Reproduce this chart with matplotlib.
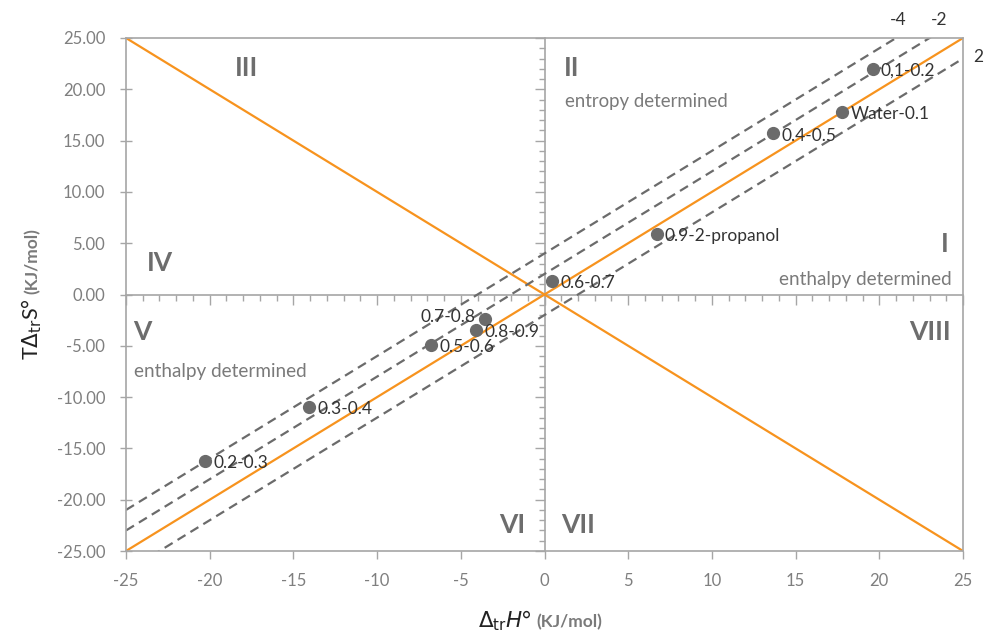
import numpy as np
import matplotlib
matplotlib.use("Agg")
import matplotlib.pyplot as plt
from matplotlib.ticker import MultipleLocator, FormatStrFormatter

plt.rcParams['font.family'] = ['Lato', 'DejaVu Sans']
plt.rcParams['mathtext.fontset'] = 'dejavusans'
plt.rcParams['axes.unicode_minus'] = False

# ---- data ----
labels = ['0,1-0.2', 'Water-0.1', '0.4-0.5', '0.9-2-propanol', '0.6-0.7',
          '0.7-0.8', '0.8-0.9', '0.5-0.6', '0.3-0.4', '0.2-0.3']
dH = [19.6, 17.8, 13.65, 6.7, 0.45, -3.55, -4.1, -6.8, -14.05, -20.3]
TdS = [22.0, 17.8, 15.7, 5.9, 1.3, -2.35, -3.45, -4.9, -10.95, -16.2]
label_left = ['0.7-0.8']

dash_offsets = [4, 2, -2]
dash_labels = ['-4', '-2', '2']

roman = ['I', 'II', 'III', 'IV', 'V', 'VI', 'VII', 'VIII']
roman_x = [23.9, 1.6, -17.8, -23.0, -24.0, -1.9, 2.0, 23.0]
roman_y = [4.9, 22.1, 22.1, 3.1, -3.65, -22.5, -22.5, -3.65]

region_text = ['entropy determined', 'enthalpy determined', 'enthalpy determined']
region_x = [1.2, 24.3, -24.5]
region_y = [18.8, 1.5, -7.5]
region_ha = ['left', 'right', 'left']
region_size = [13.4, 13.6, 13.6]

xlim = (-25, 25)
ylim = (-25, 25)

ORANGE = '#F7931E'
DGRAY = '#6b6b6b'
SPINE = '#a6a6a6'
TICKC = '#7f7f7f'
TEXTC = '#333333'

fig = plt.figure(figsize=(9.84, 6.37), dpi=100)
rect = [126/984, 1-551/637, (963-126)/984, (551-38)/637]

# axis through origin (behind)
ax2 = fig.add_axes(rect)
ax2.set_xlim(*xlim); ax2.set_ylim(*ylim)
ax2.patch.set_visible(False)
for s in ['top', 'right']:
    ax2.spines[s].set_visible(False)
ax2.spines['bottom'].set_position(('data', 0))
ax2.spines['left'].set_position(('data', 0))
for s in ['bottom', 'left']:
    ax2.spines[s].set_color(SPINE)
    ax2.spines[s].set_linewidth(1.2)
ax2.xaxis.set_major_locator(MultipleLocator(5))
ax2.xaxis.set_minor_locator(MultipleLocator(1))
ax2.yaxis.set_major_locator(MultipleLocator(5))
ax2.yaxis.set_minor_locator(MultipleLocator(1))
ax2.tick_params(which='both', direction='out', color=SPINE, width=1.0,
                labelbottom=False, labelleft=False)
ax2.tick_params(which='major', length=7)
ax2.tick_params(which='minor', length=4)
ax2.set_zorder(0)

ax = fig.add_axes(rect)
ax.set_zorder(1)
ax.patch.set_alpha(0)
ax.set_xlim(*xlim); ax.set_ylim(*ylim)

xs = np.array(xlim, dtype=float)
ax.plot(xs, xs, color=ORANGE, lw=1.6, zorder=2)
ax.plot(xs, -xs, color=ORANGE, lw=1.6, zorder=2)
for c in dash_offsets:
    ax.plot(xs, xs + c, color=DGRAY, lw=1.6, dashes=(4.2, 2.6), zorder=2)

ax.plot(dH, TdS, 'o', color=DGRAY, markersize=8.5, zorder=3)
for lab, x, y in zip(labels, dH, TdS):
    if lab in label_left:
        ax.annotate(lab, (x, y), xytext=(-7, 1), textcoords='offset points',
                    ha='right', va='center', fontsize=12.5, color=TEXTC)
    else:
        ax.annotate(lab, (x, y), xytext=(6, -1.5), textcoords='offset points',
                    ha='left', va='center', fontsize=12.5, color=TEXTC)

# dashed line labels
ax.text(25 - dash_offsets[0] + 0.1, 26.8, dash_labels[0], ha='center', va='center',
        fontsize=12.5, color=TEXTC, clip_on=False)
ax.text(25 - dash_offsets[1] + 0.6, 26.8, dash_labels[1], ha='center', va='center',
        fontsize=12.5, color=TEXTC, clip_on=False)
ax.text(25.9, 25 + dash_offsets[2] + 0.1, dash_labels[2], ha='center', va='center',
        fontsize=12.5, color=TEXTC, clip_on=False)

for r, x, y in zip(roman, roman_x, roman_y):
    ax.text(x, y, r, ha='center', va='center', fontsize=19, fontweight='bold',
            color='#6d6d6d')
for t, x, y, h, fs in zip(region_text, region_x, region_y, region_ha, region_size):
    ax.text(x, y, t, ha=h, va='center', fontsize=fs, color='#7a7a7a')

ax.xaxis.set_major_locator(MultipleLocator(5))
ax.yaxis.set_major_locator(MultipleLocator(5))
ax.yaxis.set_major_formatter(FormatStrFormatter('%.2f'))
for s in ax.spines.values():
    s.set_color(SPINE)
    s.set_linewidth(1.2)
ax.tick_params(axis='x', direction='out', length=6, color=SPINE, width=1.0,
               labelcolor=TICKC, labelsize=12, pad=10)
ax.tick_params(axis='y', direction='inout', length=8, color=SPINE, width=1.0,
               labelcolor=TICKC, labelsize=12, pad=11)

# axis labels
jx = 532/984
by = 1 - 627/637
fig.text(jx, by, r'$\Delta_{\mathrm{tr}}H$°', ha='right', va='baseline',
         fontsize=15.5, color='#222222')
fig.text(jx + 4/984, by, '(KJ/mol)', ha='left', va='baseline',
         fontsize=12.5, fontweight='bold', color='#7a7a7a')

jy = 1 - 298/637
bx = 38/984
fig.text(bx, jy, r'T$\Delta_{\mathrm{tr}}$S°', ha='right', va='baseline',
         rotation=90, rotation_mode='anchor', fontsize=15.5, color='#222222')
fig.text(bx, jy + 4/637, '(KJ/mol)', ha='left', va='baseline',
         rotation=90, rotation_mode='anchor', fontsize=12.5, fontweight='bold',
         color='#7a7a7a')

fig.savefig('out.png', dpi=100, facecolor='white')
